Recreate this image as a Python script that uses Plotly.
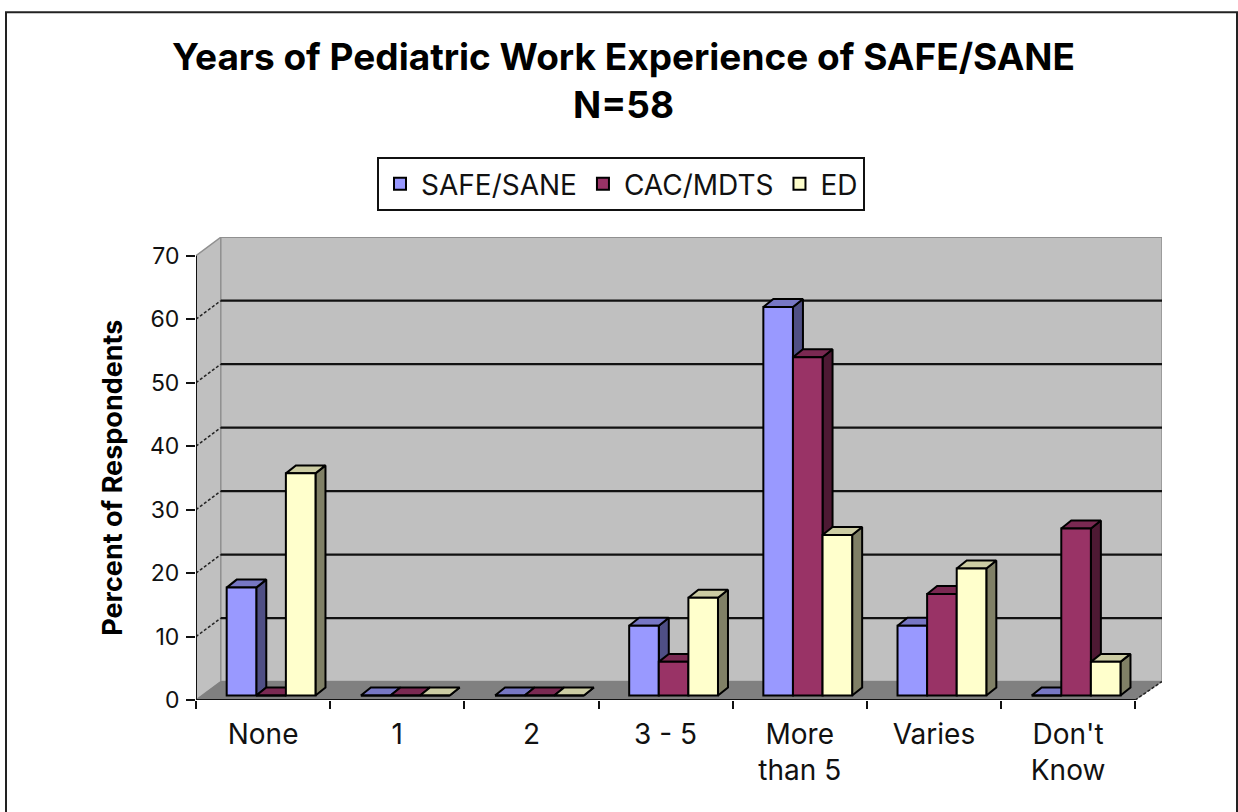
import plotly.graph_objects as go

categories = ["None", "1", "2", "3 - 5", "More<br>than 5", "Varies", "Don't<br>Know"]
safe_sane = [17, 0, 0, 11, 61.2, 11, 0]
cac_mdts = [0, 0, 0, 5.3, 53.3, 16, 26.3]
ed = [35, 0, 0, 15.4, 25.3, 20, 5.3]
y_ticks = [0, 10, 20, 30, 40, 50, 60, 70]

series = [
    ("SAFE/SANE", safe_sane, "#9999FF", "#4F4F85", "#7777C4"),
    ("CAC/MDTS", cac_mdts, "#993366", "#4D1933", "#7A2952"),
    ("ED", ed, "#FFFFCC", "#808066", "#CCCCA3"),
]

W, H = 1238, 812
L, R, T, B = 196, 1162, 237, 700.5
n = len(categories)
XMAX, YMAX = 7.2, 72.95
px_x = (R - L) / XMAX
px_y = (B - T) / YMAX
DX, DY = 0.185, 18.5 / px_y          # depth of the walls
BW, BDX, BDY = 29.6 / px_x, 10 / px_x, 8 / px_y   # bar width and depth
SHIFT, BASE = 8 / px_x, 4.5 / px_y    # bars stand a little way in on the floor


def poly(points):
    xs, ys = [], []
    for p in points:
        xs.append(p[0]); ys.append(p[1])
    xs.append(points[0][0]); ys.append(points[0][1])
    return xs, ys


fig = go.Figure()


def area(points, fill, line, width=1.5, z=0):
    xs, ys = poly(points)
    fig.add_trace(go.Scatter(x=xs, y=ys, mode="lines", fill="toself", fillcolor=fill,
                             line=dict(color=line, width=width), showlegend=False,
                             hoverinfo="skip", zorder=z))


top = y_ticks[-1]
area([(0, 0), (DX, DY), (DX, top + DY), (0, top)], "#C0C0C0", "#909090", 1.5, 0)
area([(DX, DY), (XMAX, DY), (XMAX, top + DY), (DX, top + DY)], "#C0C0C0", "#909090", 1.5, 0)
area([(0, 0), (7, 0), (XMAX, DY), (DX, DY)], "#808080", "#808080", 1, 0)

for v in y_ticks[1:-1]:
    fig.add_trace(go.Scatter(x=[DX, XMAX], y=[v + DY, v + DY], mode="lines",
                             line=dict(color="#111111", width=2.2), showlegend=False,
                             hoverinfo="skip", zorder=1))
    fig.add_trace(go.Scatter(x=[0, DX], y=[v, v + DY], mode="lines",
                             line=dict(color="#222222", width=1.5, dash="3px,2px"), showlegend=False,
                             hoverinfo="skip", zorder=1))
fig.add_trace(go.Scatter(x=[7, XMAX], y=[0, DY], mode="lines",
                         line=dict(color="#222222", width=1.5, dash="3px,2px"), showlegend=False,
                         hoverinfo="skip", zorder=1))

for s, (name, vals, front, side, cap) in enumerate(series):
    z = 10 + 3 * s
    centers = [i + 0.5 + SHIFT + (s - 1) * BW for i in range(n)]
    sx, sy, tx, ty = [], [], [], []
    for c, v in zip(centers, vals):
        x0, x1 = c - BW / 2, c + BW / 2
        y0, y1 = BASE, BASE + v
        a, b = poly([(x1, y0), (x1 + BDX, y0 + BDY), (x1 + BDX, y1 + BDY), (x1, y1)])
        sx += a + [None]; sy += b + [None]
        a, b = poly([(x0, y1), (x1, y1), (x1 + BDX, y1 + BDY), (x0 + BDX, y1 + BDY)])
        tx += a + [None]; ty += b + [None]
    fig.add_trace(go.Scatter(x=sx, y=sy, mode="lines", fill="toself", fillcolor=side,
                             line=dict(color="#000000", width=2), showlegend=False,
                             hoverinfo="skip", zorder=z))
    fig.add_trace(go.Scatter(x=tx, y=ty, mode="lines", fill="toself", fillcolor=cap,
                             line=dict(color="#000000", width=2), showlegend=False,
                             hoverinfo="skip", zorder=z + 1))
    fig.add_trace(go.Bar(x=centers, y=vals, base=BASE, width=BW, name=name,
                         marker=dict(color=front, line=dict(color="#000000", width=2)),
                         zorder=z + 2))

fig.add_trace(go.Scatter(x=[0, 0], y=[0, top], mode="lines", line=dict(color="#111111", width=2),
                         showlegend=False, hoverinfo="skip", cliponaxis=False, zorder=30))
fig.add_trace(go.Scatter(x=[0, 7], y=[0, 0], mode="lines", line=dict(color="#111111", width=2),
                         showlegend=False, hoverinfo="skip", cliponaxis=False, zorder=30))


def pxx(p):
    return (p - L) / (R - L)


def pxy(p):
    return (B - p) / (B - T)


fig.update_layout(
    width=W, height=H, autosize=False,
    margin=dict(l=L, r=W - R, t=T, b=H - B, pad=0),
    paper_bgcolor="#FFFFFF", plot_bgcolor="rgba(0,0,0,0)",
    font=dict(family="Inter, Liberation Sans, Arial, sans-serif", color="#111111"),
    barmode="overlay",
    title=dict(text="<b>Years of Pediatric Work Experience of SAFE/SANE<br>N=58</b>",
               x=623.5 / W, xanchor="center", y=1 - 70 / H, yanchor="top",
               font=dict(size=37, color="#000000")),
    xaxis=dict(range=[0, XMAX], tickmode="array", tickvals=[i + 0.5 for i in range(n)],
               ticktext=categories, ticks="", showgrid=False, zeroline=False, showline=False,
               tickfont=dict(size=28), ticklabelstandoff=15,
               minor=dict(tickmode="array", tickvals=list(range(n + 1)), ticks="outside",
                          ticklen=8, tickwidth=2, tickcolor="#111111", showgrid=False)),
    yaxis=dict(range=[0, YMAX], tickmode="array", tickvals=y_ticks, ticks="outside",
               ticklen=9, tickwidth=2, tickcolor="#111111", showgrid=False, zeroline=False,
               showline=False, tickfont=dict(size=23), ticklabelstandoff=2),
    legend=dict(orientation="h", x=pxx(377), xanchor="left", y=pxy(157), yanchor="top",
                bordercolor="#111111", borderwidth=2, bgcolor="#FFFFFF",
                itemwidth=32, font=dict(size=28), itemclick=False, itemdoubleclick=False),
    showlegend=True,
    shapes=[dict(type="path", xref="paper", yref="paper",
                 path=f"M {pxx(6)} {pxy(H + 5)} L {pxx(6)} {pxy(12)} L {pxx(1237)} {pxy(12)} L {pxx(1237)} {pxy(H + 5)}",
                 line=dict(color="#222222", width=2))],
    annotations=[dict(text="<b>Percent of Respondents</b>", textangle=-90, xref="paper", yref="paper",
                      x=pxx(113), y=pxy(478), xanchor="center", yanchor="middle", showarrow=False,
                      font=dict(size=27, color="#000000"))],
)

fig.write_html("out.html", config={"displayModeBar": False},
               post_script="document.body.style.margin='0';document.body.style.overflow='hidden';")
